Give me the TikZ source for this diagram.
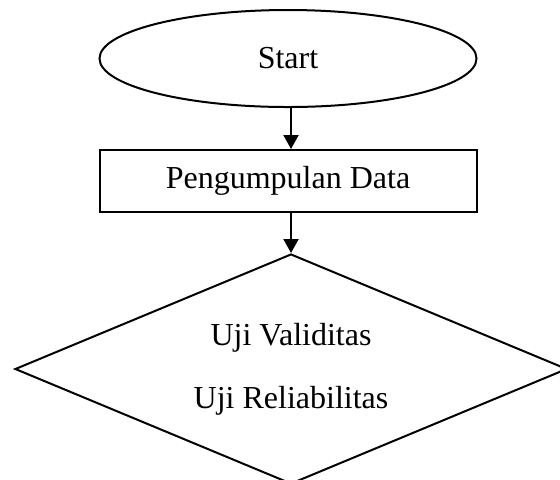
\documentclass[tikz,border=0pt]{standalone}
\usepackage{fontspec}
\setmainfont{Liberation Serif}
\usetikzlibrary{arrows.meta,shapes.geometric}
\tikzset{
	flowline/.style={line width=1pt},
	flow/.style={flowline, -{Triangle[width=7.5pt,length=7pt]}},
	terminal/.style={draw, flowline, ellipse, minimum width=188.5pt, minimum height=48.5pt, inner sep=0pt},
	process/.style={draw, flowline, rectangle, minimum width=188.5pt, minimum height=31pt, inner sep=0pt},
	decision/.style={draw, flowline, diamond, aspect=2.4, minimum width=276pt, minimum height=115pt, inner sep=0pt, align=center}
}

\begin{document}
\begin{tikzpicture}[x=0.5pt, y=-0.5pt, font=\fontsize{16}{19}\selectfont]
		%%%%% START %%%%%
		\clip (0, 0) rectangle (560, 479);
		
		\node[terminal] (start) at (288, 58.5) {Start};
		\node[process] (collect) at (288, 181) {Pengumpulan Data};
		\node[decision, font=\fontsize{16}{31.5}\selectfont] (check) at (291, 369) {Uji Validitas\\Uji Reliabilitas};
		
		\draw[flow] (start.south -| check.north) -- (collect.north -| check.north);
		\draw[flow] (collect.south -| check.north) -- (check.north);
		
		%%%%% END %%%%%
	\end{tikzpicture}
\end{document}
